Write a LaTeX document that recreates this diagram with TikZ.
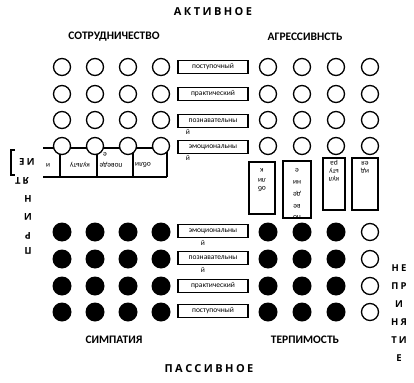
\documentclass[tikz,border=0pt]{standalone}
\usepackage{fontspec}
\setmainfont{Carlito}
\newfontfamily\spacedbold[LetterSpace=22]{Open Sans}
\begin{document}
\begin{tikzpicture}[x=1pt,y=-1pt,
  hc/.style={circle,draw,line width=1.3pt,fill=white,minimum size=17pt,inner sep=0pt},
  fc/.style={circle,fill=black,minimum size=19pt,inner sep=0pt},
  lbl/.style={draw,line width=1.3pt,minimum width=70pt,minimum height=13pt,inner sep=0pt,font=\fontsize{7.5}{8}\selectfont},
  tiny/.style={inner sep=0pt,font=\fontsize{7.5}{8}\selectfont},
  rtiny/.style={tiny,rotate=180},
  frame/.style={draw,line width=1.3pt},
  head/.style={inner sep=0pt,font=\bfseries\fontsize{11.5}{13}\selectfont},
  pole/.style={inner sep=0pt,font=\spacedbold\bfseries\fontsize{11}{13}\selectfont},
  side/.style={inner sep=0pt,font=\spacedbold\bfseries\fontsize{9.5}{11}\selectfont},
  rside/.style={side,rotate=180}]
\useasboundingbox (0,0) rectangle (414,382);

% poles and quadrant titles
\node[pole] (act) at (213,12) {АКТИВНОЕ};
\node[pole] (pas) at (209,369) {ПАССИВНОЕ};
\node[head] (coop) at (114,37) {СОТРУДНИЧЕСТВО};
\node[head] (aggr) at (305,37) {АГРЕССИВНСТЬ};
\node[head] (symp) at (114,340) {СИМПАТИЯ};
\node[head] (tole) at (305,340) {ТЕРПИМОСТЬ};

% horizontal strip of turned boxes on the left
\coordinate (sa) at (43,148);
\coordinate (sb) at (167,148);
\coordinate (sc) at (43,177);
\coordinate (sd) at (167,177);
\draw[line width=1.3pt] (sa) -- (sb) (sc) -- (sd);
\foreach \x/\n in {60/1,97/2,133/3,167/4}{
  \coordinate (su\n) at (\x,148);
  \coordinate (sl\n) at (\x,177);
  \draw[line width=1.3pt] (su\n) -- (sl\n);
}
\node[rtiny] (s1) at (48,165) {и};
\node[rtiny] (s2) at (80,165) {культу};
\node[rtiny] (s3) at (111,165) {поведе};
\node[rtiny] (s3b) at (105,154) {е};
\node[rtiny] (s4) at (143,165) {обли};

% circles: top hollow rows, bottom filled rows
\foreach \y [count=\r] in {67,94,120,146}{
  \foreach \x [count=\c] in {62,95,128,161}{
    \node[hc] (tl\r\c) at (\x,\y) {};
  }
  \foreach \x [count=\c] in {268,302,336,370}{
    \node[hc] (tr\r\c) at (\x,\y) {};
  }
}
\foreach \y [count=\r] in {232,259,286,312}{
  \foreach \x [count=\c] in {62,95,128,161}{
    \node[fc] (bl\r\c) at (\x,\y) {};
  }
  \foreach \x [count=\c] in {268,302,336}{
    \node[fc] (br\r\c) at (\x,\y) {};
  }
  \node[hc] (br\r4) at (370,\y) {};
}

% central labelled boxes
\node[lbl] (k1) at (213,67) {поступочный};
\node[lbl] (k2) at (213,94) {практический};
\node[lbl] (k3) at (213,121) {познавательны};
\node[tiny] (k3y) at (188,132) {й};
\node[lbl] (k4) at (213,147) {эмоциональны};
\node[tiny] (k4y) at (188,158) {й};
\node[lbl] (m1) at (213,231) {эмоциональны};
\node[tiny] (m1y) at (203,243) {й};
\node[lbl] (m2) at (213,258) {познавательны};
\node[tiny] (m2y) at (203,270) {й};
\node[lbl] (m3) at (213,286) {практический};
\node[lbl] (m4) at (213,311) {поступочный};

% vertical turned boxes on the right
\node[frame,minimum width=26pt,minimum height=52pt,inner sep=0pt] (v1) at (262,188) {};
\node[rtiny] (v1a) at (262,170) {к};
\node[rtiny] (v1b) at (262,180) {ли};
\node[rtiny] (v1c) at (262,189) {об};
\node[frame,minimum width=28pt,minimum height=57pt,inner sep=0pt] (v2) at (297,189.5) {};
\node[rtiny] (v2a) at (297,170) {е};
\node[rtiny] (v2b) at (297,182) {ни};
\node[rtiny] (v2c) at (297,194) {де};
\node[rtiny] (v2d) at (297,206) {ве};
\node[rtiny] (v2e) at (297,217) {по};
\node[frame,minimum width=22pt,minimum height=52pt,inner sep=0pt] (v3) at (334,184) {};
\node[rtiny] (v3a) at (334,163) {ра};
\node[rtiny] (v3b) at (334,171) {ьту};
\node[rtiny] (v3c) at (334,179) {кул};
\node[frame,minimum width=26pt,minimum height=52pt,inner sep=0pt] (v4) at (365,184) {};
\node[rtiny] (v4a) at (365,163) {ея};
\node[rtiny] (v4b) at (365,171) {ид};

% word set down the right edge
\node[side] (n1) at (399,268) {НЕ};
\node[side] (n2) at (399,286) {ПР};
\node[side] (n3) at (399,304) {И};
\node[side] (n4) at (399,322) {НЯ};
\node[side] (n5) at (399,340) {ТИ};
\node[side] (n6) at (399,358) {Е};

% the same word, turned, down the left edge
\node[rside] (p1) at (27,162) {ИЕ};
\node[rside] (p2) at (22,181) {ЯТ};
\node[rside] (p3) at (28,199) {Н};
\node[rside] (p4) at (28,217) {И};
\node[rside] (p5) at (28,236) {Р};
\node[rside] (p6) at (28,251) {П};
\coordinate (q1) at (15,150);
\coordinate (q2) at (11,150);
\coordinate (q3) at (11,175);
\coordinate (q4) at (15,175);
\draw[line width=1.3pt] (q1) -- (q2) -- (q3) -- (q4);
\end{tikzpicture}
\end{document}
